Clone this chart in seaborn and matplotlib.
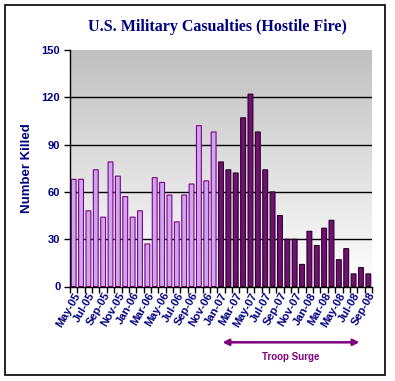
import numpy as np
import pandas as pd
import seaborn as sns
import matplotlib.pyplot as plt
from matplotlib.colors import LinearSegmentedColormap
from matplotlib.patches import Rectangle
import matplotlib.transforms as mtransforms

# -----------------
# Data
# -----------------
months = [
    "May-05", "Jun-05", "Jul-05", "Aug-05", "Sep-05", "Oct-05", "Nov-05", "Dec-05",
    "Jan-06", "Feb-06", "Mar-06", "Apr-06", "May-06", "Jun-06", "Jul-06", "Aug-06",
    "Sep-06", "Oct-06", "Nov-06", "Dec-06",
    "Jan-07", "Feb-07", "Mar-07", "Apr-07", "May-07", "Jun-07", "Jul-07", "Aug-07",
    "Sep-07", "Oct-07", "Nov-07", "Dec-07", "Jan-08", "Feb-08", "Mar-08", "Apr-08",
    "May-08", "Jun-08", "Jul-08", "Aug-08", "Sep-08",
]
killed = [
    68, 68, 48, 74, 44, 79, 70, 57, 44, 48, 27, 69, 66, 58, 41, 58, 65, 102, 67, 98,
    79, 74, 72, 107, 122, 98, 74, 60, 45, 30, 30, 14, 35, 26, 37, 42, 17, 24, 8, 12, 8,
]
period = ["before"] * 20 + ["surge"] * 21

navy = "#000080"
purple = "#800080"
light_fill = "#CC99FF"
dark_fill = "#800080"

df = pd.DataFrame({"month": months, "killed": killed, "period": period})

# -----------------
# Plot
# -----------------
sns.set_theme(style="white")
plt.rcParams["font.family"] = ["Liberation Sans", "DejaVu Sans"]

fig = plt.figure(figsize=(3.95, 3.81), dpi=100)
ax = fig.add_axes([70 / 395, 1 - 286.5 / 381, 302 / 395, 236.5 / 381])

# gradient background (grey top -> white bottom)
cmap = LinearSegmentedColormap.from_list("bg", ["#FFFFFF", "#C0C0C0"])
grad = np.linspace(0, 1, 256).reshape(-1, 1)
ax.imshow(grad, extent=[-0.5, len(months) - 0.5, 0, 150], aspect="auto",
          cmap=cmap, origin="lower", zorder=0)

sns.barplot(data=df, x="month", y="killed", hue="period",
            palette={"before": light_fill, "surge": dark_fill},
            dodge=False, width=0.66, legend=False, ax=ax, zorder=2)
# edge colours per bar
for bar in ax.patches:
    fc = bar.get_facecolor()
    is_light = fc[0] > 0.7
    bar.set_edgecolor(purple if is_light else "#2a002a")
    bar.set_linewidth(0.8)
    bar.set_snap(False)
    bar.set_zorder(2)

for yv in [30, 60, 90, 120]:
    ax.axhline(yv, color="black", lw=1.0, zorder=1)

ax.set_xlim(-0.5, len(months) - 0.5)
ax.set_ylim(0, 150)
ax.set_yticks([0, 30, 60, 90, 120, 150])
ax.set_yticklabels(["0", "30", "60", "90", "120", "150"],
                   fontsize=8, fontweight="bold", color=navy)

# category ticks between bars, labels every other month
ax.set_xticks(np.arange(len(months) + 1) - 0.5, minor=True)
ax.set_xticks(np.arange(0, len(months), 2))
ax.set_xticklabels(months[::2], rotation=60, ha="right", rotation_mode="anchor",
                   fontsize=8, fontweight="bold", color=navy)
ax.tick_params(axis="x", which="major", length=0, pad=3)
ax.tick_params(axis="x", which="minor", length=4, width=1, color="black",
               direction="out", bottom=True)
ax.tick_params(axis="y", length=4, width=1, color="black", direction="out",
               left=True, pad=3)

for side in ["top", "right"]:
    ax.spines[side].set_visible(False)
for side in ["left", "bottom"]:
    ax.spines[side].set_color("black")
    ax.spines[side].set_linewidth(1.0)
    ax.spines[side].set_zorder(3)

ax.set_xlabel("")
ax.set_ylabel("Number Killed", fontsize=9.5, fontweight="bold", color=navy, labelpad=6)

fig.text(217 / 395, 1 - 27 / 381, "U.S. Military Casualties (Hostile Fire)",
         ha="center", va="center", fontsize=11.5, fontweight="bold", color=navy,
         family=["Liberation Serif", "DejaVu Serif"])

# troop surge arrow
trans = mtransforms.blended_transform_factory(ax.transData, ax.transAxes)
ax.annotate("", xy=(38.8, -0.236), xytext=(20.2, -0.236),
            xycoords=trans, textcoords=trans,
            arrowprops=dict(arrowstyle="<|-|>", color=purple, lw=1.8,
                            mutation_scale=9, shrinkA=0, shrinkB=0),
            annotation_clip=False)
ax.text(29.5, -0.30, "Troop Surge", transform=trans, ha="center", va="center",
        fontsize=7, fontweight="bold", color=purple, clip_on=False)

# outer border
fig.patches.append(Rectangle((5 / 395, 6 / 381), 380 / 395, 370 / 381,
                             transform=fig.transFigure, fill=False,
                             edgecolor="black", lw=1.2))

fig.savefig("out.png", dpi=100)
